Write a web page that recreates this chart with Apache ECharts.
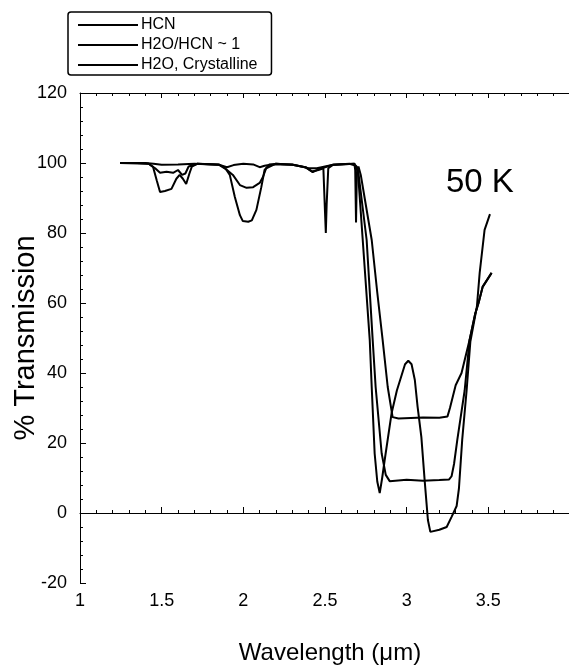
<!DOCTYPE html>
<html>
<head>
<meta charset="utf-8">
<script src="https://cdn.jsdelivr.net/npm/echarts@6/dist/echarts.min.js"></script>
<style>
  html, body { margin: 0; padding: 0; background: #fff; }
  #chart { width: 569px; height: 668px; }
</style>
</head>
<body>
<div id="chart"></div>
<script>
// series names as in the legend
const seriesNames = ['HCN', 'H2O/HCN ~ 1', 'H2O, Crystalline']

// HCN: [wavelength um, % transmission]
const hcnData = [
  [1.245, 100], [1.4, 100], [1.45, 99.8], [1.5, 99.5], [1.6, 99.6], [1.7, 99.8],
  [1.85, 99.5], [1.9, 98.8], [1.94, 99.4], [2.0, 99.8], [2.06, 99.6], [2.1, 98.8],
  [2.13, 99.2], [2.2, 99.8], [2.3, 99.5], [2.38, 98.8], [2.42, 97.6], [2.46, 98],
  [2.49, 98.5], [2.5, 86], [2.505, 80], [2.51, 88], [2.52, 98.5], [2.55, 99.5],
  [2.65, 99.8], [2.69, 99.2], [2.70, 98.6], [2.731, 78], [2.774, 49.4], [2.786, 36],
  [2.804, 17], [2.82, 9], [2.835, 5.7], [2.85, 10], [2.865, 15], [2.908, 28.6],
  [2.94, 35], [2.97, 39.5], [2.99, 42.5], [3.01, 43.5], [3.03, 42.5], [3.05, 38],
  [3.067, 30.3], [3.09, 21.7], [3.11, 9.4], [3.13, -2], [3.145, -5.4], [3.2, -4.8],
  [3.245, -4], [3.275, -1.1], [3.306, 2], [3.32, 7], [3.34, 20.9], [3.367, 35],
  [3.39, 49], [3.41, 54], [3.43, 59], [3.447, 68.6], [3.477, 80.9], [3.51, 85.4]
]

// H2O/HCN ~ 1
const mixData = [
  [1.245, 100], [1.42, 99.8], [1.46, 98.5], [1.49, 97.2], [1.53, 97.5], [1.57, 97.2],
  [1.6, 98], [1.625, 96.6], [1.645, 97], [1.665, 99], [1.72, 99.8], [1.85, 99.5],
  [1.9, 98], [1.936, 96.6], [1.979, 93.7], [2.02, 92.9], [2.06, 93.1], [2.1, 94.3],
  [2.12, 96], [2.14, 98.5], [2.2, 99.8], [2.3, 99.5], [2.38, 98.8], [2.425, 97.4],
  [2.46, 98.2], [2.55, 99.5], [2.68, 99.8], [2.685, 98], [2.69, 83], [2.695, 97],
  [2.705, 99], [2.719, 96.6], [2.75, 88], [2.786, 78], [2.82, 63], [2.853, 49.4],
  [2.884, 36], [2.914, 27.4], [2.95, 27], [3.1, 27.3], [3.2, 27.2], [3.25, 27.6],
  [3.265, 30], [3.3, 36.5], [3.336, 40], [3.385, 49.4], [3.42, 57], [3.44, 60],
  [3.465, 64.6], [3.52, 68.6]
]

// H2O, Crystalline
const iceData = [
  [1.245, 100], [1.35, 100], [1.42, 99.8], [1.447, 98.9], [1.47, 95], [1.49, 91.7],
  [1.52, 92], [1.56, 92.6], [1.59, 95.5], [1.61, 96.6], [1.63, 95.5], [1.65, 94],
  [1.67, 97], [1.685, 99], [1.72, 99.8], [1.85, 99.6], [1.89, 98.5], [1.917, 96.6],
  [1.948, 90.3], [1.979, 85.1], [1.997, 83.4], [2.03, 83.2], [2.052, 83.6], [2.08, 86.6],
  [2.11, 93.1], [2.13, 98], [2.16, 99.6], [2.3, 99.6], [2.4, 98.5], [2.45, 98.5],
  [2.55, 99.5], [2.68, 99.8], [2.705, 97], [2.755, 78], [2.792, 49.4], [2.81, 36],
  [2.847, 17], [2.872, 10.9], [2.896, 9.1], [3.0, 9.5], [3.1, 9.2], [3.2, 9.4],
  [3.26, 9.6], [3.275, 10.5], [3.29, 14], [3.31, 20.9], [3.355, 35], [3.385, 49.4],
  [3.42, 57], [3.44, 60], [3.465, 64.6], [3.52, 68.6]
]

const xMin = 1, xMax = 4, xStep = 0.5
const yMin = -20, yMax = 120, yStep = 20

const font = 'Liberation Sans, Arial, sans-serif'

const chart = echarts.init(document.getElementById('chart'))

function line(name, data) {
  return {
    name: name,
    type: 'line',
    data: data,
    showSymbol: false,
    symbol: 'none',
    animation: false,
    lineStyle: { color: '#000', width: 2 },
    itemStyle: { color: '#000' }
  }
}

chart.setOption({
  animation: false,
  grid: { left: 80, right: -1, top: 93, bottom: 85, outerBoundsMode: 'none' },
  legend: {
    orient: 'vertical',
    left: 68,
    top: 12,
    padding: [5, 14, 2, 10],
    itemGap: 4,
    itemWidth: 60,
    itemHeight: 2,
    icon: 'rect',
    borderColor: '#000',
    borderWidth: 1.5,
    borderRadius: 3,
    textStyle: { fontFamily: font, fontSize: 16, lineHeight: 16, color: '#000', padding: [0, 0, 0, -2] },
    data: seriesNames
  },
  xAxis: [{
    type: 'value',
    min: xMin,
    max: xMax,
    interval: xStep,
    name: 'Wavelength (\u03bcm)',
    nameLocation: 'middle',
    nameGap: 58,
    nameMoveOverlap: false,
    nameTextStyle: { fontFamily: font, fontSize: 24, color: '#000', padding: [0, 0, 0, 10] },
    axisLine: { lineStyle: { color: '#000', width: 1 } },
    axisTick: { inside: true, length: 6, lineStyle: { color: '#000' } },
    minorTick: { show: true, splitNumber: 5, length: 3, lineStyle: { color: '#000' } },
    axisLabel: { fontFamily: font, fontSize: 18, color: '#000', margin: 9, showMaxLabel: false },
    splitLine: { show: false }
  }, {
    type: 'value',
    position: 'top',
    min: xMin,
    max: xMax,
    interval: xStep,
    axisLine: { lineStyle: { color: '#000', width: 1 } },
    axisTick: { inside: true, length: 5, lineStyle: { color: '#000' } },
    minorTick: { show: true, splitNumber: 5, length: 3, lineStyle: { color: '#000' } },
    axisLabel: { show: false },
    splitLine: { show: false }
  }],
  yAxis: {
    type: 'value',
    min: yMin,
    max: yMax,
    interval: yStep,
    name: '% Transmission',
    nameLocation: 'middle',
    nameGap: 40,
    nameMoveOverlap: false,
    nameTextStyle: { fontFamily: font, fontSize: 29, color: '#000' },
    axisLine: { show: true, lineStyle: { color: '#000', width: 1 } },
    axisTick: { inside: true, length: 6, lineStyle: { color: '#000' } },
    minorTick: { show: true, splitNumber: 5, length: 3, lineStyle: { color: '#000' } },
    axisLabel: { fontFamily: font, fontSize: 18, color: '#000', margin: 13 },
    splitLine: { show: false }
  },
  graphic: [{
    type: 'text',
    left: 446,
    top: 166,
    style: { text: '50 K', fontFamily: font, fontSize: 33, fill: '#000' }
  }],
  series: [
    line(seriesNames[0], hcnData),
    line(seriesNames[1], mixData),
    line(seriesNames[2], iceData)
  ]
})
</script>
</body>
</html>
